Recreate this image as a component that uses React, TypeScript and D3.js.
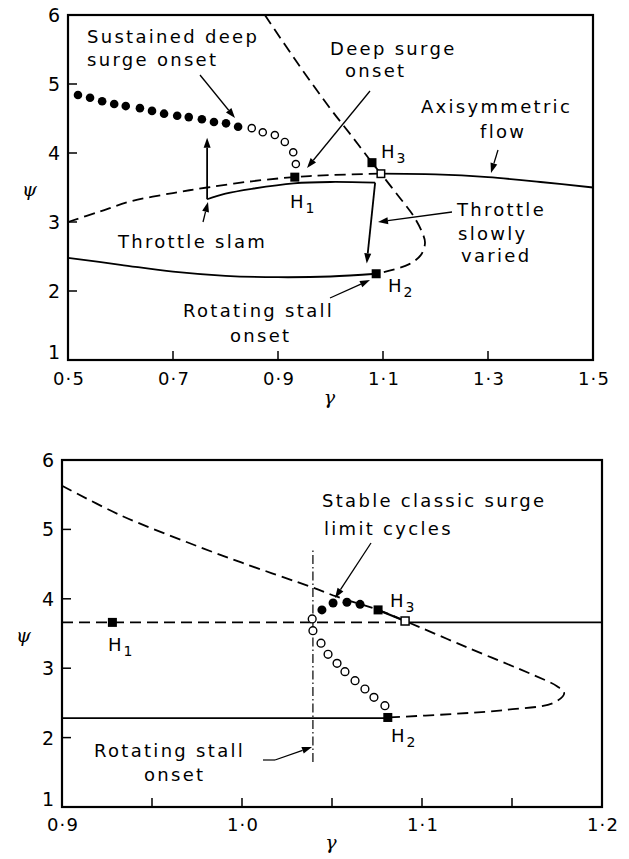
import React from "react";
import * as d3 from "d3";

// ---------- DATA (top chart) ----------
const topXTicks = [0.5, 0.7, 0.9, 1.1, 1.3, 1.5];
const topXTickLabels = ["0·5", "0·7", "0·9", "1·1", "1·3", "1·5"];
const topXMinor = [0.7, 0.9, 1.1, 1.3];
const yTicks = [1, 2, 3, 4, 5, 6];
const yTickLabels = ["1", "2", "3", "4", "5", "6"];
const yMinor = [2, 3, 4, 5];

const topUpperDashed: [number, number][] = [
  [0.5, 3.0], [0.56, 3.15], [0.62, 3.3], [0.7, 3.42], [0.765, 3.5], [0.85, 3.59],
  [0.93, 3.65], [1.0, 3.68], [1.096, 3.7],
];
const topAxisymmetric: [number, number][] = [
  [1.096, 3.7], [1.2, 3.69], [1.3, 3.65], [1.4, 3.58], [1.5, 3.5],
];
const topFold: [number, number][] = [
  [0.875, 6.0], [0.942, 5.25], [1.0, 4.64], [1.04, 4.25], [1.079, 3.86], [1.096, 3.7],
  [1.13, 3.37], [1.157, 3.1], [1.174, 2.86], [1.18, 2.7], [1.172, 2.52], [1.15, 2.39],
  [1.12, 2.31], [1.087, 2.25],
];
const topSolidMid: [number, number][] = [
  [0.765, 3.33], [0.8, 3.41], [0.85, 3.48], [0.93, 3.56], [1.0, 3.58], [1.085, 3.57],
];
const topLower: [number, number][] = [
  [0.5, 2.48], [0.6, 2.38], [0.7, 2.28], [0.8, 2.22], [0.9, 2.2], [1.0, 2.21], [1.087, 2.25],
];
const topFilledDots: [number, number][] = [
  [0.519, 4.84], [0.542, 4.8], [0.565, 4.75], [0.588, 4.71], [0.61, 4.68], [0.637, 4.65],
  [0.66, 4.61], [0.683, 4.57], [0.708, 4.54], [0.73, 4.52], [0.755, 4.49], [0.778, 4.45],
  [0.801, 4.43], [0.824, 4.38],
];
const topOpenDots: [number, number][] = [
  [0.85, 4.36], [0.871, 4.3], [0.894, 4.26], [0.913, 4.16], [0.929, 4.01], [0.934, 3.84],
];
const topFilledSquares: [number, number][] = [[0.932, 3.65], [1.087, 2.25], [1.079, 3.86]];
const topOpenSquares: [number, number][] = [[1.096, 3.7]];
const topSlamArrow: [number, number][] = [[0.765, 3.33], [0.765, 4.22]];
const topSlowArrow: [number, number][] = [[1.085, 3.57], [1.069, 2.4]];

// ---------- DATA (bottom chart) ----------
const botXTicks = [0.9, 1.0, 1.1, 1.2];
const botXTickLabels = ["0·9", "1·0", "1·1", "1·2"];
const botXMinor = [0.95, 1.0, 1.05, 1.1, 1.15];

const botFold: [number, number][] = [
  [0.9, 5.63], [0.932, 5.21], [0.971, 4.8], [1.0, 4.52], [1.0395, 4.16], [1.0528, 4.03],
  [1.0756, 3.84], [1.0906, 3.68], [1.125, 3.3], [1.162, 2.9], [1.175, 2.74], [1.179, 2.64],
  [1.173, 2.5], [1.147, 2.4], [1.117, 2.34], [1.081, 2.29],
];
const botH3Segment: [number, number][] = [[1.0756, 3.84], [1.0906, 3.68]];
const botUpperDashed: [number, number][] = [[0.9, 3.66], [1.0906, 3.66]];
const botUpperSolid: [number, number][] = [[1.0906, 3.66], [1.2, 3.66]];
const botLowerSolid: [number, number][] = [[0.9, 2.28], [1.081, 2.28]];
const botStallLine: [number, number][] = [[1.0394, 1.65], [1.0394, 4.73]];
const botOpenDots: [number, number][] = [
  [1.039, 3.71], [1.0394, 3.54], [1.0439, 3.36], [1.0478, 3.2], [1.0528, 3.07],
  [1.0572, 2.95], [1.0628, 2.82], [1.0683, 2.7], [1.0733, 2.58], [1.0794, 2.46],
];
const botFilledDots: [number, number][] = [
  [1.0444, 3.84], [1.0506, 3.94], [1.0583, 3.95], [1.0656, 3.92],
];
const botFilledSquares: [number, number][] = [[0.928, 3.66], [1.081, 2.29], [1.0756, 3.84]];
const botOpenSquares: [number, number][] = [[1.0906, 3.68]];

// ---------- helpers ----------
const FONT = "'DejaVu Sans', sans-serif";
const LS = 2.3;

type P = [number, number];

function Label({ x, y, children, anchor = "start", size = 18 }: any) {
  return (
    <text x={x} y={y} fontFamily={FONT} fontSize={size} letterSpacing={LS} textAnchor={anchor} fill="#000">
      {children}
    </text>
  );
}

function HLabel({ x, y, sub }: { x: number; y: number; sub: string }) {
  return (
    <text x={x} y={y} fontFamily={FONT} fontSize={18} fill="#000">
      H<tspan fontSize={14} dx={2} dy={5}>{sub}</tspan>
    </text>
  );
}

function Arrow({ x1, y1, x2, y2, w = 1.3 }: any) {
  const ang = Math.atan2(y2 - y1, x2 - x1);
  const L = 10, W = 3.5;
  const bx = x2 - L * Math.cos(ang), by = y2 - L * Math.sin(ang);
  const px = -Math.sin(ang) * W, py = Math.cos(ang) * W;
  return (
    <g>
      <line x1={x1} y1={y1} x2={bx} y2={by} stroke="#000" strokeWidth={w} />
      <path d={`M${x2},${y2}L${bx + px},${by + py}L${bx - px},${by - py}Z`} fill="#000" />
    </g>
  );
}

function Frame({ box, xs, ys, xTicks, xLabels, xMinor, xLabelY, gammaY }: any) {
  return (
    <g>
      <rect x={box.left} y={box.top} width={box.right - box.left} height={box.bottom - box.top}
        fill="none" stroke="#000" strokeWidth={2.2} />
      {xMinor.map((v: number) => (
        <line key={"xm" + v} x1={xs(v)} x2={xs(v)} y1={box.bottom} y2={box.bottom - 9} stroke="#000" strokeWidth={1.5} />
      ))}
      {yMinor.map((v: number) => (
        <line key={"ym" + v} x1={box.left} x2={box.left + 9} y1={ys(v)} y2={ys(v)} stroke="#000" strokeWidth={1.5} />
      ))}
      {xTicks.map((v: number, i: number) => (
        <text key={"xl" + v} x={xs(v) + 1} y={xLabelY} fontFamily={FONT} fontSize={18} letterSpacing={1.2}
          textAnchor="middle" fill="#000">{xLabels[i]}</text>
      ))}
      {yTicks.map((v: number, i: number) => (
        <text key={"yl" + v} x={box.left - 8} y={v === 1 ? ys(v) - 1 : ys(v) + 7} fontFamily={FONT} fontSize={19}
          textAnchor="end" fill="#000">{yTickLabels[i]}</text>
      ))}
      <text x={box.left - 46} y={(box.top + box.bottom) / 2 + 8} fontFamily="'DejaVu Serif', serif"
        fontStyle="italic" fontSize={19} fill="#000">ψ</text>
      <text x={(box.left + box.right) / 2 - 1} y={gammaY} fontFamily="'DejaVu Serif', serif"
        fontStyle="italic" fontSize={19} textAnchor="middle" fill="#000">γ</text>
    </g>
  );
}

const DASH = "11 6";

export default function App() {
  const TOP = { left: 68, right: 593, top: 15, bottom: 360 };
  const BOT = { left: 62, right: 602, top: 460, bottom: 807 };

  const tx = d3.scaleLinear().domain([0.5, 1.5]).range([TOP.left, TOP.right]);
  const ty = d3.scaleLinear().domain([1, 6]).range([TOP.bottom, TOP.top]);
  const bx = d3.scaleLinear().domain([0.9, 1.2]).range([BOT.left, BOT.right]);
  const by = d3.scaleLinear().domain([1, 6]).range([BOT.bottom, BOT.top]);

  const tLine = d3.line<P>().x((d) => tx(d[0])).y((d) => ty(d[1])).curve(d3.curveCatmullRom.alpha(0.5));
  const bLine = d3.line<P>().x((d) => bx(d[0])).y((d) => by(d[1])).curve(d3.curveCatmullRom.alpha(0.5));

  const sq = (xs: any, ys: any, d: P, s: number, filled: boolean, k: string) => (
    <rect key={k} x={xs(d[0]) - s / 2} y={ys(d[1]) - s / 2} width={s} height={s}
      fill={filled ? "#000" : "#fff"} stroke="#000" strokeWidth={filled ? 0 : 1.5} />
  );

  return (
    <svg width={629} height={859} style={{ position: "absolute", left: 0, top: 0, background: "#fff" }}>
      <rect x={0} y={0} width={629} height={859} fill="#fff" />

      {/* ================= TOP CHART ================= */}
      <Frame box={TOP} xs={tx} ys={ty} xTicks={topXTicks} xLabels={topXTickLabels} xMinor={topXMinor}
        xLabelY={385} gammaY={404} />
      <path d={tLine(topUpperDashed)!} fill="none" stroke="#000" strokeWidth={1.8} strokeDasharray={DASH} />
      <path d={tLine(topAxisymmetric)!} fill="none" stroke="#000" strokeWidth={1.8} />
      <path d={tLine(topFold)!} fill="none" stroke="#000" strokeWidth={1.8} strokeDasharray={DASH} />
      <path d={tLine(topSolidMid)!} fill="none" stroke="#000" strokeWidth={1.8} />
      <path d={tLine(topLower)!} fill="none" stroke="#000" strokeWidth={1.8} />
      <Arrow x1={tx(topSlamArrow[0][0])} y1={ty(topSlamArrow[0][1])} x2={tx(topSlamArrow[1][0])} y2={ty(topSlamArrow[1][1])} w={1.8} />
      <Arrow x1={tx(topSlowArrow[0][0])} y1={ty(topSlowArrow[0][1])} x2={tx(topSlowArrow[1][0])} y2={ty(topSlowArrow[1][1])} w={1.8} />
      {topFilledDots.map((d, i) => (
        <circle key={"tf" + i} cx={tx(d[0])} cy={ty(d[1])} r={4.3} fill="#000" />
      ))}
      {topOpenDots.map((d, i) => (
        <circle key={"to" + i} cx={tx(d[0])} cy={ty(d[1])} r={3.6} fill="#fff" stroke="#000" strokeWidth={1.4} />
      ))}
      {topFilledSquares.map((d, i) => sq(tx, ty, d, 9, true, "tsq" + i))}
      {topOpenSquares.map((d, i) => sq(tx, ty, d, 7.5, false, "tos" + i))}

      <Label x={87} y={43}>Sustained deep</Label>
      <Label x={87} y={66}>surge onset</Label>
      <Arrow x1={200} y1={75} x2={235} y2={118} />
      <Label x={330} y={55}>Deep surge</Label>
      <Label x={345} y={77}>onset</Label>
      <Arrow x1={370} y1={91} x2={307} y2={168} />
      <Label x={421} y={113}>Axisymmetric</Label>
      <Label x={480} y={138}>flow</Label>
      <Arrow x1={498} y1={150} x2={491} y2={173} />
      <HLabel x={381} y={158} sub="3" />
      <HLabel x={290} y={208} sub="1" />
      <Label x={118} y={248}>Throttle slam</Label>
      <Arrow x1={203} y1={222} x2={208} y2={202} />
      <Label x={457} y={216}>Throttle</Label>
      <Label x={458} y={240}>slowly</Label>
      <Label x={461} y={262}>varied</Label>
      <Arrow x1={452} y1={212} x2={378} y2={222} />
      <Label x={183} y={317}>Rotating stall</Label>
      <Label x={230} y={342}>onset</Label>
      <Arrow x1={330} y1={298} x2={370} y2={280} />
      <HLabel x={388} y={292} sub="2" />

      {/* ================= BOTTOM CHART ================= */}
      <Frame box={BOT} xs={bx} ys={by} xTicks={botXTicks} xLabels={botXTickLabels} xMinor={botXMinor}
        xLabelY={831} gammaY={849} />
      <path d={bLine(botFold)!} fill="none" stroke="#000" strokeWidth={1.8} strokeDasharray={DASH} />
      <path d={bLine(botH3Segment)!} fill="none" stroke="#000" strokeWidth={2.2} />
      <path d={bLine(botUpperDashed)!} fill="none" stroke="#000" strokeWidth={1.8} strokeDasharray={DASH} />
      <path d={bLine(botUpperSolid)!} fill="none" stroke="#000" strokeWidth={1.8} />
      <path d={bLine(botLowerSolid)!} fill="none" stroke="#000" strokeWidth={1.8} />
      <path d={bLine(botStallLine)!} fill="none" stroke="#000" strokeWidth={1.2} strokeDasharray="9 3 1.5 3" />
      {botOpenDots.map((d, i) => (
        <circle key={"bo" + i} cx={bx(d[0])} cy={by(d[1])} r={3.9} fill="#fff" stroke="#000" strokeWidth={1.4} />
      ))}
      {botFilledDots.map((d, i) => (
        <circle key={"bf" + i} cx={bx(d[0])} cy={by(d[1])} r={4.5} fill="#000" />
      ))}
      {botFilledSquares.map((d, i) => sq(bx, by, d, 9, true, "bsq" + i))}
      {botOpenSquares.map((d, i) => sq(bx, by, d, 8, false, "bos" + i))}

      <Label x={322} y={507}>Stable classic surge</Label>
      <Label x={324} y={535}>limit cycles</Label>
      <Arrow x1={371} y1={543} x2={335} y2={598} />
      <HLabel x={390} y={607} sub="3" />
      <HLabel x={108} y={651} sub="1" />
      <HLabel x={391} y={742} sub="2" />
      <Label x={94} y={757}>Rotating stall</Label>
      <Label x={144} y={781}>onset</Label>
      <path d="M263,760 L275,760" stroke="#000" strokeWidth={1.2} fill="none" />
      <Arrow x1={275} y1={760} x2={312} y2={747} />
    </svg>
  );
}
